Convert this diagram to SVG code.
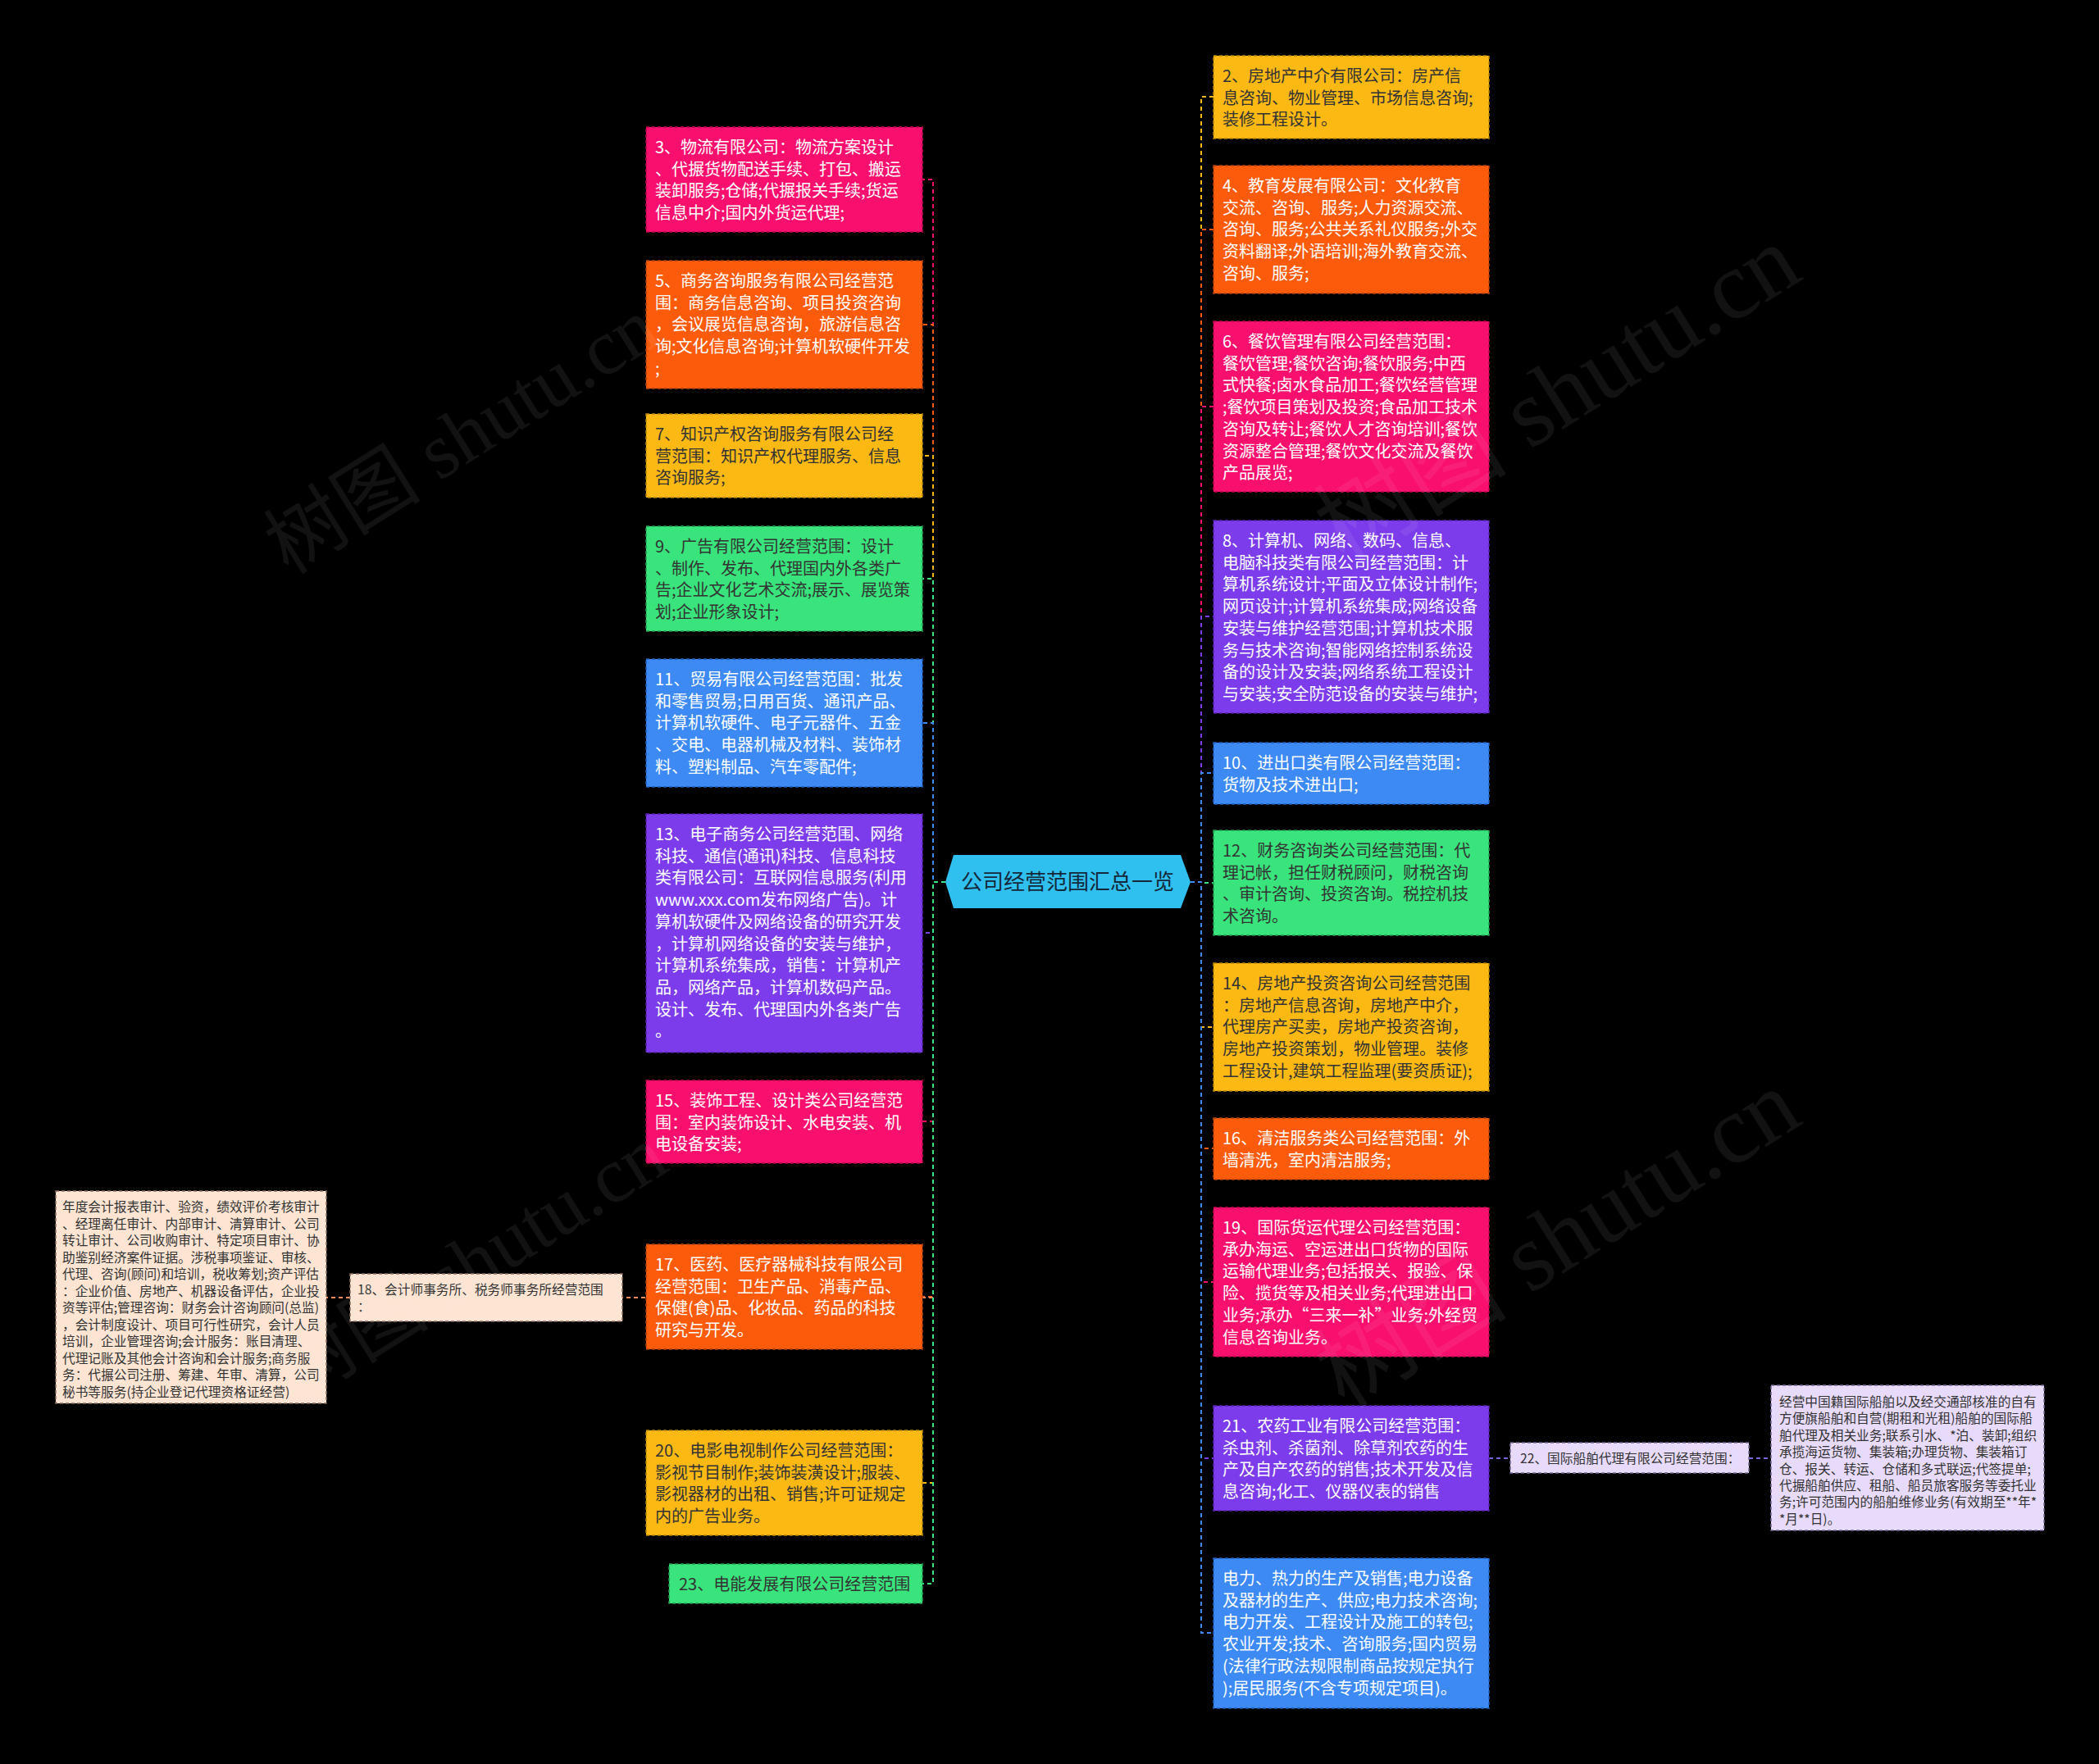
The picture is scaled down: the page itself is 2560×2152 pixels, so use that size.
<svg xmlns="http://www.w3.org/2000/svg" width="2560" height="2152" viewBox="0 0 2560 2152">
<style>
.t{font-family:"Noto Sans CJK SC","Microsoft YaHei","Liberation Sans",sans-serif;font-size:20px}
.s{font-size:15.7px}
.w{fill:#ffffff}
.d{fill:#333333}
.box{stroke-width:1.5;stroke-dasharray:4 3}
.pink{fill:#F90F6E;stroke:#B8094F}
.orange{fill:#FC5B0C;stroke:#B84206}
.yellow{fill:#FDB913;stroke:#B88600}
.green{fill:#38E47B;stroke:#1F9E52}
.blue{fill:#3D8AF5;stroke:#1F5FBF}
.purple{fill:#7C3CEB;stroke:#5520B0}
.peach{fill:#FDE4D3;stroke:#8A6D5E}
.lav{fill:#E7DAFB;stroke:#76689A}
.e{fill:none;stroke-width:2;stroke-dasharray:5 4}
.ep{stroke:#F90F6E}.eo{stroke:#FC5B0C}.ey{stroke:#FDB913}.eg{stroke:#38E47B}.eb{stroke:#3D8AF5}.eu{stroke:#7C3CEB}.ec{stroke:#F08A5A}.el{stroke:#7566D9}
.wm{font-family:"Liberation Serif","Noto Sans CJK SC",serif;font-size:96px;fill:#ffffff;fill-opacity:0.07}
.wl{font-size:118px}
</style>
<rect x="0" y="0" width="2560" height="2152" fill="#000000"/>
<g id="connectors">
<path class="e ep" d="M1153 1076H1138V219H1125"/>
<path class="e eo" d="M1153 1076H1138V396H1125"/>
<path class="e ey" d="M1153 1076H1138V556H1125"/>
<path class="e eg" d="M1153 1076H1138V706H1125"/>
<path class="e eb" d="M1153 1076H1138V882H1125"/>
<path class="e eu" d="M1153 1076H1138V1138H1125"/>
<path class="e ep" d="M1153 1076H1138V1368H1125"/>
<path class="e eo" d="M1153 1076H1138V1582H1125"/>
<path class="e ec" d="M1153 1076H1138V1583H759"/>
<path class="e ey" d="M1153 1076H1138V1809H1125"/>
<path class="e eg" d="M1153 1076H1138V1932H1125"/>
<path class="e ec" d="M427 1583H398"/>
<path class="e ey" d="M1452 1076H1465V118H1480"/>
<path class="e eo" d="M1452 1076H1465V280H1480"/>
<path class="e ep" d="M1452 1076H1465V496H1480"/>
<path class="e eu" d="M1452 1076H1465V752H1480"/>
<path class="e eb" d="M1452 1076H1465V943H1480"/>
<path class="e eg" d="M1452 1076H1465V1077H1480"/>
<path class="e ey" d="M1452 1076H1465V1253H1480"/>
<path class="e eo" d="M1452 1076H1465V1401H1480"/>
<path class="e ep" d="M1452 1076H1465V1564H1480"/>
<path class="e eu" d="M1452 1076H1465V1779H1480"/>
<path class="e eb" d="M1452 1076H1465V1992H1480"/>
<path class="e el" d="M1816 1779H1842"/>
<path class="e el" d="M2133 1779H2160"/>
</g>
<g id="root">
<polygon points="1153,1076 1163,1043 1440,1043 1452,1076 1440,1108 1163,1108" fill="#30C0F0"/>
<text class="t" x="1302" y="1085" text-anchor="middle" style="font-size:26px;fill:#14283A">公司经营范围汇总一览</text>
</g>
<g id="n3"><rect class="box pink" x="788" y="155" width="337" height="128"/>
<text class="t w"><tspan x="799" y="187">3、物流有限公司：物流方案设计</tspan><tspan x="799" y="213.7">、代搌货物配送手续、打包、搬运</tspan><tspan x="799" y="240.4">装卸服务;仓储;代搌报关手续;货运</tspan><tspan x="799" y="267.1">信息中介;国内外货运代理;</tspan></text></g>
<g id="n5"><rect class="box orange" x="788" y="318" width="337" height="156"/>
<text class="t w"><tspan x="799" y="350">5、商务咨询服务有限公司经营范</tspan><tspan x="799" y="376.7">围：商务信息咨询、项目投资咨询</tspan><tspan x="799" y="403.4">，会议展览信息咨询，旅游信息咨</tspan><tspan x="799" y="430.1">询;文化信息咨询;计算机软硬件开发</tspan><tspan x="799" y="456.8">;</tspan></text></g>
<g id="n7"><rect class="box yellow" x="788" y="505" width="337" height="102"/>
<text class="t d"><tspan x="799" y="537">7、知识产权咨询服务有限公司经</tspan><tspan x="799" y="563.7">营范围：知识产权代理服务、信息</tspan><tspan x="799" y="590.4">咨询服务;</tspan></text></g>
<g id="n9"><rect class="box green" x="788" y="642" width="337" height="128"/>
<text class="t d"><tspan x="799" y="674">9、广告有限公司经营范围：设计</tspan><tspan x="799" y="700.7">、制作、发布、代理国内外各类广</tspan><tspan x="799" y="727.4">告;企业文化艺术交流;展示、展览策</tspan><tspan x="799" y="754.1">划;企业形象设计;</tspan></text></g>
<g id="n11"><rect class="box blue" x="788" y="804" width="337" height="156"/>
<text class="t w"><tspan x="799" y="836">11、贸易有限公司经营范围：批发</tspan><tspan x="799" y="862.7">和零售贸易;日用百货、通讯产品、</tspan><tspan x="799" y="889.4">计算机软硬件、电子元器件、五金</tspan><tspan x="799" y="916.1">、交电、电器机械及材料、装饰材</tspan><tspan x="799" y="942.8">料、塑料制品、汽车零配件;</tspan></text></g>
<g id="n13"><rect class="box purple" x="788" y="993" width="337" height="291"/>
<text class="t w"><tspan x="799" y="1025">13、电子商务公司经营范围、网络</tspan><tspan x="799" y="1051.7">科技、通信(通讯)科技、信息科技</tspan><tspan x="799" y="1078.4">类有限公司：互联网信息服务(利用</tspan><tspan x="799" y="1105.1">www.xxx.com发布网络广告)。计</tspan><tspan x="799" y="1131.8">算机软硬件及网络设备的研究开发</tspan><tspan x="799" y="1158.5">，计算机网络设备的安装与维护，</tspan><tspan x="799" y="1185.2">计算机系统集成，销售：计算机产</tspan><tspan x="799" y="1211.9">品，网络产品，计算机数码产品。</tspan><tspan x="799" y="1238.6">设计、发布、代理国内外各类广告</tspan><tspan x="799" y="1265.3">。</tspan></text></g>
<g id="n15"><rect class="box pink" x="788" y="1318" width="337" height="101"/>
<text class="t w"><tspan x="799" y="1350">15、装饰工程、设计类公司经营范</tspan><tspan x="799" y="1376.7">围：室内装饰设计、水电安装、机</tspan><tspan x="799" y="1403.4">电设备安装;</tspan></text></g>
<g id="n17"><rect class="box orange" x="788" y="1518" width="337" height="128"/>
<text class="t w"><tspan x="799" y="1550">17、医药、医疗器械科技有限公司</tspan><tspan x="799" y="1576.7">经营范围：卫生产品、消毒产品、</tspan><tspan x="799" y="1603.4">保健(食)品、化妆品、药品的科技</tspan><tspan x="799" y="1630.1">研究与开发。</tspan></text></g>
<g id="n18"><rect class="box peach" x="427" y="1554" width="332" height="58"/>
<text class="t s d"><tspan x="436" y="1579">18、会计师事务所、税务师事务所经营范围</tspan><tspan x="436" y="1600">：</tspan></text></g>
<g id="n18a"><rect class="box peach" x="68" y="1453" width="330" height="259"/>
<text class="t s d"><tspan x="76" y="1478">年度会计报表审计、验资，绩效评价考核审计</tspan><tspan x="76" y="1498.5">、经理离任审计、内部审计、清算审计、公司</tspan><tspan x="76" y="1519">转让审计、公司收购审计、特定项目审计、协</tspan><tspan x="76" y="1539.5">助鉴别经济案件证据。涉税事项鉴证、审核、</tspan><tspan x="76" y="1560">代理、咨询(顾问)和培训，税收筹划;资产评估</tspan><tspan x="76" y="1580.5">：企业价值、房地产、机器设备评估，企业投</tspan><tspan x="76" y="1601">资等评估;管理咨询：财务会计咨询顾问(总监)</tspan><tspan x="76" y="1621.5">，会计制度设计、项目可行性研究，会计人员</tspan><tspan x="76" y="1642">培训，企业管理咨询;会计服务：账目清理、</tspan><tspan x="76" y="1662.5">代理记账及其他会计咨询和会计服务;商务服</tspan><tspan x="76" y="1683">务：代搌公司注册、筹建、年审、清算，公司</tspan><tspan x="76" y="1703.5">秘书等服务(持企业登记代理资格证经营)</tspan></text></g>
<g id="n20"><rect class="box yellow" x="788" y="1745" width="337" height="128"/>
<text class="t d"><tspan x="799" y="1777">20、电影电视制作公司经营范围：</tspan><tspan x="799" y="1803.7">影视节目制作;装饰装潢设计;服装、</tspan><tspan x="799" y="1830.4">影视器材的出租、销售;许可证规定</tspan><tspan x="799" y="1857.1">内的广告业务。</tspan></text></g>
<g id="n23"><rect class="box green" x="816" y="1908" width="309" height="48"/>
<text class="t d" x="828" y="1940">23、电能发展有限公司经营范围</text></g>
<g id="n2"><rect class="box yellow" x="1480" y="68" width="336" height="101"/>
<text class="t d"><tspan x="1491" y="100">2、房地产中介有限公司：房产信</tspan><tspan x="1491" y="126.7">息咨询、物业管理、市场信息咨询;</tspan><tspan x="1491" y="153.4">装修工程设计。</tspan></text></g>
<g id="n4"><rect class="box orange" x="1480" y="202" width="336" height="156"/>
<text class="t w"><tspan x="1491" y="234">4、教育发展有限公司：文化教育</tspan><tspan x="1491" y="260.7">交流、咨询、服务;人力资源交流、</tspan><tspan x="1491" y="287.4">咨询、服务;公共关系礼仪服务;外交</tspan><tspan x="1491" y="314.1">资料翻译;外语培训;海外教育交流、</tspan><tspan x="1491" y="340.8">咨询、服务;</tspan></text></g>
<g id="n6"><rect class="box pink" x="1480" y="392" width="336" height="208"/>
<text class="t w"><tspan x="1491" y="424">6、餐饮管理有限公司经营范围：</tspan><tspan x="1491" y="450.7">餐饮管理;餐饮咨询;餐饮服务;中西</tspan><tspan x="1491" y="477.4">式快餐;卤水食品加工;餐饮经营管理</tspan><tspan x="1491" y="504.1">;餐饮项目策划及投资;食品加工技术</tspan><tspan x="1491" y="530.8">咨询及转让;餐饮人才咨询培训;餐饮</tspan><tspan x="1491" y="557.5">资源整合管理;餐饮文化交流及餐饮</tspan><tspan x="1491" y="584.2">产品展览;</tspan></text></g>
<g id="n8"><rect class="box purple" x="1480" y="635" width="336" height="235"/>
<text class="t w"><tspan x="1491" y="667">8、计算机、网络、数码、信息、</tspan><tspan x="1491" y="693.7">电脑科技类有限公司经营范围：计</tspan><tspan x="1491" y="720.4">算机系统设计;平面及立体设计制作;</tspan><tspan x="1491" y="747.1">网页设计;计算机系统集成;网络设备</tspan><tspan x="1491" y="773.8">安装与维护经营范围;计算机技术服</tspan><tspan x="1491" y="800.5">务与技术咨询;智能网络控制系统设</tspan><tspan x="1491" y="827.2">备的设计及安装;网络系统工程设计</tspan><tspan x="1491" y="853.9">与安装;安全防范设备的安装与维护;</tspan></text></g>
<g id="n10"><rect class="box blue" x="1480" y="906" width="336" height="75"/>
<text class="t w"><tspan x="1491" y="938">10、进出口类有限公司经营范围：</tspan><tspan x="1491" y="964.7">货物及技术进出口;</tspan></text></g>
<g id="n12"><rect class="box green" x="1480" y="1013" width="336" height="128"/>
<text class="t d"><tspan x="1491" y="1045">12、财务咨询类公司经营范围：代</tspan><tspan x="1491" y="1071.7">理记帐，担任财税顾问，财税咨询</tspan><tspan x="1491" y="1098.4">、审计咨询、投资咨询。税控机技</tspan><tspan x="1491" y="1125.1">术咨询。</tspan></text></g>
<g id="n14"><rect class="box yellow" x="1480" y="1175" width="336" height="156"/>
<text class="t d"><tspan x="1491" y="1207">14、房地产投资咨询公司经营范围</tspan><tspan x="1491" y="1233.7">：房地产信息咨询，房地产中介，</tspan><tspan x="1491" y="1260.4">代理房产买卖，房地产投资咨询，</tspan><tspan x="1491" y="1287.1">房地产投资策划，物业管理。装修</tspan><tspan x="1491" y="1313.8">工程设计,建筑工程监理(要资质证);</tspan></text></g>
<g id="n16"><rect class="box orange" x="1480" y="1364" width="336" height="75"/>
<text class="t w"><tspan x="1491" y="1396">16、清洁服务类公司经营范围：外</tspan><tspan x="1491" y="1422.7">墙清洗，室内清洁服务;</tspan></text></g>
<g id="n19"><rect class="box pink" x="1480" y="1473" width="336" height="182"/>
<text class="t w"><tspan x="1491" y="1505">19、国际货运代理公司经营范围：</tspan><tspan x="1491" y="1531.7">承办海运、空运进出口货物的国际</tspan><tspan x="1491" y="1558.4">运输代理业务;包括报关、报验、保</tspan><tspan x="1491" y="1585.1">险、揽货等及相关业务;代理进出口</tspan><tspan x="1491" y="1611.8">业务;承办“三来一补”业务;外经贸</tspan><tspan x="1491" y="1638.5">信息咨询业务。</tspan></text></g>
<g id="n21"><rect class="box purple" x="1480" y="1715" width="336" height="128"/>
<text class="t w"><tspan x="1491" y="1747">21、农药工业有限公司经营范围：</tspan><tspan x="1491" y="1773.7">杀虫剂、杀菌剂、除草剂农药的生</tspan><tspan x="1491" y="1800.4">产及自产农药的销售;技术开发及信</tspan><tspan x="1491" y="1827.1">息咨询;化工、仪器仪表的销售</tspan></text></g>
<g id="n22"><rect class="box lav" x="1842" y="1760" width="291" height="37"/>
<text class="t s d" x="1854" y="1785">22、国际船舶代理有限公司经营范围：</text></g>
<g id="n22a"><rect class="box lav" x="2160" y="1690" width="333" height="177"/>
<text class="t s d"><tspan x="2170" y="1716">经营中国籍国际船舶以及经交通部核准的自有</tspan><tspan x="2170" y="1736.4">方便旗船舶和自营(期租和光租)船舶的国际船</tspan><tspan x="2170" y="1756.8">舶代理及相关业务;联系引水、*泊、装卸;组织</tspan><tspan x="2170" y="1777.2">承揽海运货物、集装箱;办理货物、集装箱订</tspan><tspan x="2170" y="1797.6">仓、报关、转运、仓储和多式联运;代签提单;</tspan><tspan x="2170" y="1818">代搌船舶供应、租船、船员旅客服务等委托业</tspan><tspan x="2170" y="1838.4">务;许可范围内的船舶维修业务(有效期至**年*</tspan><tspan x="2170" y="1858.8">*月**日)。</tspan></text></g>
<g id="n24"><rect class="box blue" x="1480" y="1901" width="336" height="183"/>
<text class="t w"><tspan x="1491" y="1933">电力、热力的生产及销售;电力设备</tspan><tspan x="1491" y="1959.7">及器材的生产、供应;电力技术咨询;</tspan><tspan x="1491" y="1986.4">电力开发、工程设计及施工的转包;</tspan><tspan x="1491" y="2013.1">农业开发;技术、咨询服务;国内贸易</tspan><tspan x="1491" y="2039.8">(法律行政法规限制商品按规定执行</tspan><tspan x="1491" y="2066.5">);居民服务(不含专项规定项目)。</tspan></text></g>
<g id="watermarks">
<text class="wm" transform="translate(352 702) rotate(-32)">树图 shutu.cn</text>
<text class="wm wl" transform="translate(1640 690) rotate(-32)">树图 shutu.cn</text>
<text class="wm" transform="translate(362 1712) rotate(-32)">树图 shutu.cn</text>
<text class="wm wl" transform="translate(1640 1720) rotate(-32)">树图 shutu.cn</text>
</g>
</svg>
